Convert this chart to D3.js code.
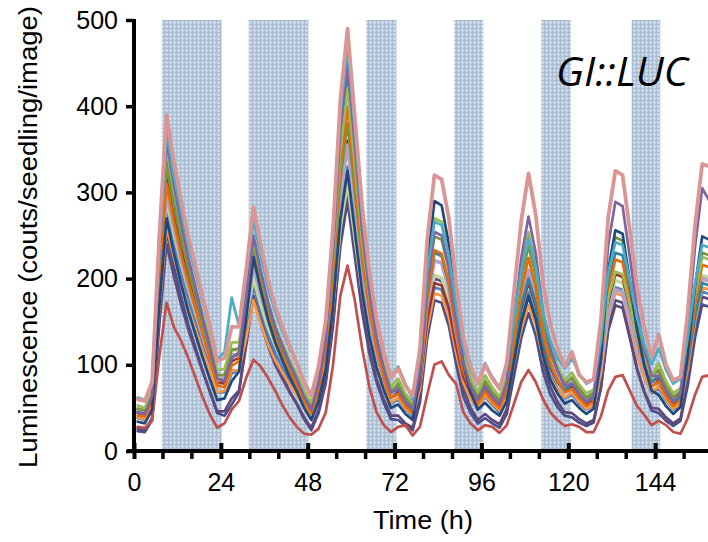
<!DOCTYPE html>
<html><head><meta charset="utf-8">
<script src="https://cdn.jsdelivr.net/npm/d3@7"></script>
<style>body{margin:0;background:#fff}svg{display:block}</style>
</head><body>
<svg id="c" width="708" height="542"></svg>
<script>
const times = [1,3,5,7,9,11,13,15,17,19,21,23,25,27,29,31,33,35,37,39,41,43,45,47,49,51,53,55,57,59,61,63,65,67,69,71,73,75,77,79,81,83,85,87,89,91,93,95,97,99,101,103,105,107,109,111,113,115,117,119,121,123,125,127,129,131,133,135,137,139,141,143,145,147,149,151,153,155,157,159];

const navy = [23,22,36,154,255,215,179,147,120,93, 68,44,41,54,68,128,195,161,130,106, 87,69,54,37,24,44,79,145,237,290, 226,162,114,80,56,37,36,29,24,56, 130,175,172,145,101,63,44,32,38,32, 27,43,87,131,160,134,92,66,51,41, 39,33,29,33,73,143,175,172,134,95, 68,47,44,35,29,35,76,131,170,167];
const darkPurple = [26,24,38,147,240,203,170,141,116,92, 69,46,46,61,70,122,180,149,122,100, 84,68,55,39,27,48,83,151,246,300, 234,169,120,84,60,41,41,32,27,63, 149,200,197,166,115,72,50,36,43,36, 31,49,98,147,180,151,104,75,57,45, 44,37,32,36,73,139,169,166,131,95, 69,50,49,39,32,38,81,138,179,176];
const red = [28,27,35,110,172,144,128,108,85,62, 42,27,32,48,58,85,106,98,85,70, 53,39,28,20,19,26,45,100,180,215, 175,120,75,45,30,22,28,30,18,28, 65,100,104,88,78,45,32,24,30,28, 21,30,55,80,94,80,60,45,36,29, 31,28,22,22,40,70,86,88,70,52, 42,30,35,30,22,20,38,65,86,88];
const blue = [38,36,52,177,280,241,207,176,149,121, 97,68,68,90,93,141,195,164,136,114, 97,81,67,51,40,63,100,172,273,330, 260,191,139,101,75,55,60,48,40,72, 146,190,187,161,117,80,61,49,63,53, 45,62,108,154,185,158,115,88,72,61, 65,55,48,52,91,159,190,187,151,113, 86,67,73,58,48,53,93,147,185,182];
const lightOrange = [39,37,53,166,260,225,194,166,141,116, 94,68,70,94,93,131,175,148,124,105, 91,77,65,52,42,63,98,166,261,315, 249,184,135,99,75,56,62,49,42,72, 141,183,180,155,114,79,61,50,65,55, 47,62,102,142,169,146,108,85,71,62, 68,57,49,53,89,154,183,180,146,111, 86,68,75,60,49,55,96,151,190,187];
const lightGreen = [50,48,65,189,290,252,218,188,162,136, 112,84,89,119,114,155,200,170,143,123, 106,91,78,63,53,74,107,170,259,310, 248,187,140,107,84,66,79,63,53,86, 160,204,201,174,130,93,74,62,83,69, 59,75,120,165,195,169,128,102,87,77, 86,73,63,67,104,168,198,195,161,125, 100,82,96,76,63,69,110,165,204,201];
const darkRed = [44,42,60,202,320,276,236,201,171,140, 113,80,78,104,108,166,230,193,160,134, 113,95,78,60,46,71,111,189,298,360, 285,209,153,112,84,62,70,55,46,78, 151,195,192,166,122,86,67,55,73,61, 52,69,117,164,196,168,124,97,80,69, 75,64,55,60,100,172,205,202,164,124, 96,76,84,67,55,61,103,159,200,197];
const lavender = [47,45,63,193,300,259,223,192,164,137, 111,82,84,112,111,160,215,182,152,128, 110,93,78,61,50,74,113,189,295,355, 282,209,154,114,87,65,74,59,50,87, 171,221,218,187,137,95,73,60,78,65, 56,74,125,176,210,180,133,103,86,74, 81,68,59,63,97,159,187,184,152,118, 95,77,90,71,59,65,106,161,200,197];
const teal = [45,43,63,214,340,293,251,214,181,148, 118,84,81,108,113,173,240,201,167,140, 118,99,82,62,48,78,129,226,362,440, 346,252,181,130,95,68,72,57,48,87, 176,230,226,194,141,96,72,58,75,63, 54,72,120,168,200,172,127,99,82,71, 78,66,57,62,109,192,230,227,182,137, 104,80,87,69,57,63,103,156,195,192];
const olive = [49,47,66,211,330,285,246,211,180,149, 120,88,88,117,119,173,235,198,165,139, 119,101,84,66,52,78,120,201,315,380, 301,223,164,121,91,68,78,62,52,94, 191,249,245,210,152,104,78,63,81,68, 59,80,140,199,238,203,148,113,93,78, 85,72,62,68,118,207,248,244,197,147, 113,87,94,75,62,69,117,183,230,227];
const orange = [41,40,57,195,310,266,228,195,165,135, 107,76,74,99,104,161,225,189,156,130, 110,92,76,58,44,72,118,206,329,400, 315,229,165,119,87,62,66,52,44,84, 177,233,229,196,140,94,69,54,69,58, 50,71,128,186,224,190,136,102,82,68, 72,61,52,57,103,185,222,219,175,130, 98,75,80,63,52,59,106,170,216,213];
const green = [53,50,71,224,350,302,260,223,190,158, 128,94,95,126,126,182,245,207,173,146, 125,106,89,70,56,85,132,222,348,420, 333,245,180,132,100,74,84,67,56,102, 207,270,266,228,165,113,85,68,88,74, 63,86,149,212,254,217,158,122,99,82, 91,77,67,71,109,177,208,205,169,132, 106,87,102,81,67,73,119,181,225,222];
const darkBlue = [34,32,48,169,270,230,194,162,135,108, 83,59,61,81,92,154,225,187,153,126, 105,86,69,50,36,58,95,167,268,325, 256,186,134,97,71,50,54,43,36,88, 214,290,285,240,164,101,68,48,56,47, 41,58,104,149,180,153,110,83,67,55, 59,50,43,49,107,209,256,252,197,140, 100,70,65,52,43,51,111,191,249,245];
const purple = [45,43,64,225,360,309,264,224,189,154, 121,84,81,108,114,178,250,209,173,144, 122,102,84,63,48,79,131,231,370,450, 354,257,185,132,96,68,72,57,48,92, 193,254,250,213,153,102,75,59,75,63, 54,80,152,224,272,230,162,119,94,76, 78,66,57,64,127,238,289,284,225,163, 120,87,87,69,57,67,139,236,305,290];
const cyan = [62,59,81,240,370,320,278,240,206,173, 142,106,115,178,145,203,268,227,190,162, 139,119,101,80,66,98,150,250,390,470, 373,276,203,151,114,86,98,78,60,109, 207,266,262,227,168,119,94,78,102,86, 74,95,152,209,247,214,161,128,108,96, 107,90,78,83,127,206,242,239,197,154, 124,101,119,94,78,84,131,194,239,236];
const pink = [60,58,80,250,390,336,291,249,214,178, 145,104,108,144,144,210,283,239,199,168, 144,122,102,80,64,98,152,258,406,490, 388,286,209,153,115,85,96,76,64,118, 244,320,315,270,194,131,98,78,100,84, 72,102,185,267,322,274,196,148,119,98, 115,88,80,83,151,270,325,320,256,190, 144,109,135,100,82,86,161,261,333,330];

const seriesList = [navy, darkPurple, red, blue, lightOrange, lightGreen, darkRed, lavender, teal, olive, orange, green, darkBlue, purple, cyan, pink];
const seriesColors = ["#4a4f8e","#5f497a","#c0504d","#4f81bd","#f79646","#c3d69b","#953735","#b3a2c7","#31859c","#77933c","#e46c0a","#9bbb59","#1f497d","#8064a2","#4bacc6","#d99694"];
const seriesWidths = [2.7,2.7,2.7,2.7,2.7,3.2,2.7,3.6,2.7,2.7,2.7,2.7,2.7,2.7,2.7,3.8];

const darkBands = [[7.7,24.2],[31.7,48.2],[64.2,72.5],[88.5,96.5],[112.5,120.7],[137.5,145.4]];
const yTicks = [0,100,200,300,400,500];
const xTicks = [0,24,48,72,96,120,144];
const xMinorTicks = [8,16,32,40,56,64,80,88,104,112,128,136,152];
const titleText = "GI::LUC";
const xTitle = "Time (h)";
const yTitle = "Luminescence (couts/seedling/image)";

const svg = d3.select("#c");
const x = d3.scaleLinear().domain([0,158.6]).range([134,708]);
const y = d3.scaleLinear().domain([0,500]).range([451,20]);

const defs = svg.append("defs");
const pat = defs.append("pattern").attr("id","dots").attr("width",4).attr("height",4).attr("patternUnits","userSpaceOnUse");
pat.append("rect").attr("width",4).attr("height",4).attr("fill","#c2d1e2");
pat.append("rect").attr("x",0).attr("y",0).attr("width",4).attr("height",1).attr("fill","#a9bdd4");
pat.append("rect").attr("x",0).attr("y",0).attr("width",1).attr("height",4).attr("fill","#a9bdd4");
pat.append("rect").attr("x",2).attr("y",2).attr("width",1).attr("height",1).attr("fill","#f0f4f9");
defs.append("clipPath").attr("id","plot").append("rect").attr("x",134).attr("y",0).attr("width",574).attr("height",451);

svg.append("g").selectAll("rect").data(darkBands).join("rect")
  .attr("x", d=>x(d[0])).attr("width", d=>x(d[1])-x(d[0]))
  .attr("y", y(500)).attr("height", y(0)-y(500)-2)
  .attr("fill","url(#dots)");

const line = d3.line().x((d,i)=>x(times[i])).y(d=>y(d));
svg.append("g").attr("clip-path","url(#plot)").selectAll("path").data(seriesList).join("path")
  .attr("d", d=>line(d)).attr("fill","none")
  .attr("stroke",(d,i)=>seriesColors[i]).attr("stroke-width",(d,i)=>seriesWidths[i])
  .attr("stroke-linejoin","round").attr("stroke-linecap","round");

const font = "'Liberation Sans', Arial, sans-serif";
const yAxis = svg.append("g").attr("transform",`translate(${x(0)},0)`)
  .call(d3.axisLeft(y).tickValues(yTicks).tickSize(8).tickPadding(8));
yAxis.select(".domain").attr("stroke","#000").attr("stroke-width",4).attr("d",`M0,${y(500)-1}V${y(0)+2}`);
yAxis.selectAll(".tick line").attr("stroke","#000").attr("stroke-width",3.5);
yAxis.selectAll(".tick text").attr("font-family",font).attr("font-size",25).attr("fill","#000");

const xAxis = svg.append("g").attr("transform",`translate(0,${y(0)})`)
  .call(d3.axisBottom(x).tickValues(xTicks).tickSize(8).tickPadding(14));
xAxis.select(".domain").attr("stroke","#000").attr("stroke-width",4).attr("d",`M${x(0)-7},0H708`);
xAxis.selectAll(".tick line").attr("stroke","#000").attr("stroke-width",4).attr("y1",-8).attr("y2",8);
xAxis.selectAll(".tick text").attr("font-family",font).attr("font-size",25).attr("fill","#000");
svg.append("g").attr("transform",`translate(0,${y(0)})`).selectAll("line").data(xMinorTicks).join("line")
  .attr("x1",d=>x(d)).attr("x2",d=>x(d)).attr("y1",0).attr("y2",8)
  .attr("stroke","#000").attr("stroke-width",3.5);

svg.append("text").attr("x",423).attr("y",529).attr("text-anchor","middle")
  .attr("font-family",font).attr("font-size",25).attr("textLength",100).attr("lengthAdjust","spacingAndGlyphs").text(xTitle);
svg.append("text").attr("transform","translate(37,237) rotate(-90)").attr("text-anchor","middle")
  .attr("font-family",font).attr("font-size",25).attr("textLength",462).attr("lengthAdjust","spacingAndGlyphs").text(yTitle);
svg.append("text").attr("x",556).attr("y",86)
  .attr("font-family","'Open Sans', sans-serif").attr("font-style","italic").attr("font-size",40)
  .attr("textLength",132).attr("lengthAdjust","spacingAndGlyphs").text(titleText);
</script>
</body></html>
